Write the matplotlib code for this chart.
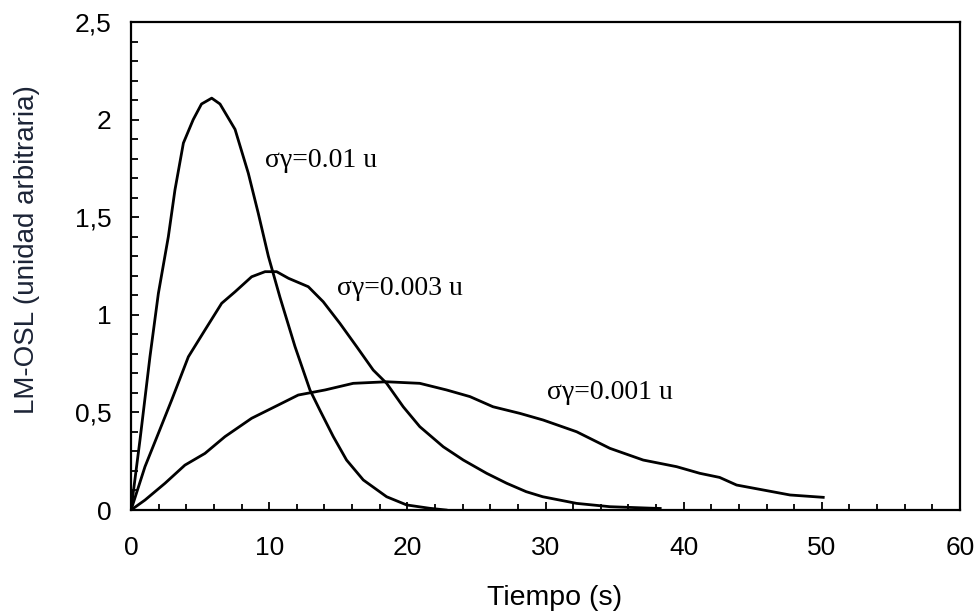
import matplotlib
matplotlib.use("Agg")
import matplotlib.pyplot as plt
from matplotlib.ticker import MultipleLocator, FixedLocator

# sigma*gamma = 0.01 u
t_001 = [0, 0.65, 1.37, 1.98, 2.7, 3.18, 3.79, 4.5, 5.1, 5.84, 6.44, 7.53, 8.49, 9.21,
         9.94, 10.78, 11.87, 12.95, 13.68, 14.64, 15.6, 16.81, 18.5, 19.95, 21.6, 22.8]
y_001 = [0, 0.36, 0.785, 1.11, 1.40, 1.64, 1.88, 2.0, 2.08, 2.11, 2.08, 1.95, 1.725, 1.52,
         1.30, 1.09, 0.837, 0.615, 0.51, 0.376, 0.256, 0.154, 0.068, 0.026, 0.009, 0.0]

# sigma*gamma = 0.003 u
t_0003 = [0, 1.01, 1.98, 2.94, 4.15, 5.35, 6.56, 7.53, 8.73, 9.7, 10.54, 11.4, 12.83, 13.91,
          15.12, 16.33, 17.53, 18.5, 19.7, 20.9, 22.6, 24.05, 25.74, 27.19, 28.6, 29.8,
          32.25, 34.66, 37.8, 38.3]
y_0003 = [0, 0.222, 0.393, 0.563, 0.785, 0.922, 1.059, 1.118, 1.195, 1.221, 1.221, 1.187,
          1.144, 1.067, 0.956, 0.837, 0.717, 0.649, 0.529, 0.427, 0.324, 0.256, 0.188,
          0.137, 0.094, 0.068, 0.034, 0.017, 0.009, 0.008]

# sigma*gamma = 0.001 u
t_0001 = [0, 1.01, 2.46, 3.9, 5.35, 6.8, 8.73, 10.66, 12.1, 14.04, 16.08, 18.5, 20.9, 22.84,
          24.53, 26.2, 28.15, 29.83, 32.25, 34.66, 37.07, 39.49, 41.17, 42.6, 43.83, 45.5,
          47.7, 50.1]
y_0001 = [0, 0.051, 0.137, 0.23, 0.29, 0.376, 0.47, 0.538, 0.589, 0.615, 0.649, 0.657,
          0.649, 0.615, 0.581, 0.529, 0.495, 0.461, 0.401, 0.316, 0.256, 0.222, 0.188,
          0.167, 0.128, 0.106, 0.077, 0.065]

labels = ["σγ=0.01 u", "σγ=0.003 u", "σγ=0.001 u"]
label_pos = [(9.7, 1.79), (14.9, 1.137), (30.1, 0.604)]

xticks = [0, 10, 20, 30, 40, 50, 60]
yticks = [0, 0.5, 1, 1.5, 2, 2.5]
ytick_labels = ["0", "0,5", "1", "1,5", "2", "2,5"]

plt.rcParams['font.family'] = ['Liberation Sans', 'DejaVu Sans']

fig = plt.figure(figsize=(9.8, 6.15), dpi=100)
ax = fig.add_axes([0.1337, 0.1707, 0.8459, 0.7935])

for t, y in [(t_001, y_001), (t_0003, y_0003), (t_0001, y_0001)]:
    ax.plot(t, y, color='black', lw=2.0, solid_joinstyle='round')

for txt, (x, y) in zip(labels, label_pos):
    ax.text(x, y, txt, family=['Liberation Serif', 'DejaVu Serif'], fontsize=20,
            va='center', ha='left')

ax.set_xlim(0, 60)
ax.set_ylim(0, 2.5)
ax.xaxis.set_major_locator(FixedLocator(xticks))
ax.xaxis.set_minor_locator(MultipleLocator(2))
ax.yaxis.set_major_locator(FixedLocator(yticks))
ax.yaxis.set_minor_locator(MultipleLocator(0.1))
ax.set_yticklabels(ytick_labels)

ax.tick_params(which='both', direction='in', top=False, right=False, width=1.3,
               labelsize=19, colors='black')
ax.tick_params(axis='x', which='major', length=6, pad=19)
ax.tick_params(axis='x', which='minor', length=4)
ax.tick_params(axis='y', which='major', length=6, pad=14)
ax.tick_params(axis='y', which='minor', length=5)

for s in ax.spines.values():
    s.set_linewidth(1.6)

ax.set_xlabel("Tiempo (s)", fontsize=20.5)
ax.xaxis.set_label_coords(0.511, -0.153)
ax.set_ylabel("LM-OSL (unidad arbitraria)", fontsize=20, color='#1c2436')
ax.yaxis.set_label_coords(-0.125, 0.533)
ax.yaxis.label.set_va('center')

fig.savefig("out.png", dpi=100)
